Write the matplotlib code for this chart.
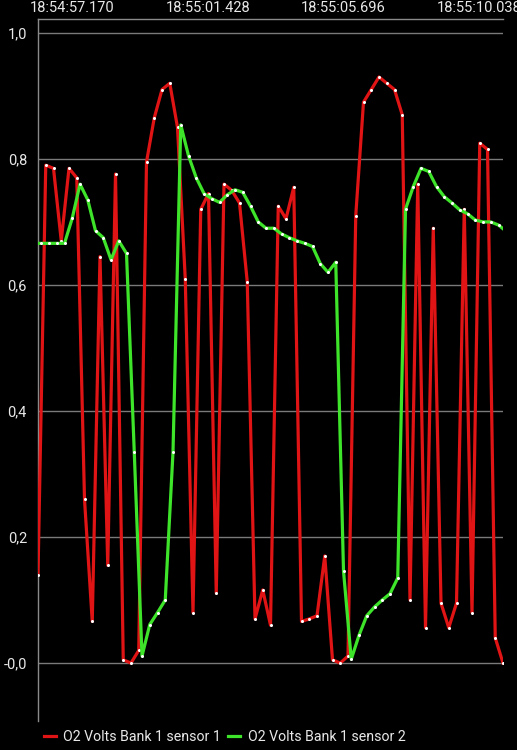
import matplotlib
matplotlib.use('Agg')
import matplotlib.pyplot as plt

plt.rcParams['font.family'] = ['Roboto', 'DejaVu Sans']

# Sensor 1 samples (sample index 0..60)
sensor1 = [0.14, 0.79, 0.785, 0.67, 0.785, 0.77, 0.26, 0.066, 0.645, 0.155,
           0.776, 0.005, 0.0, 0.02, 0.795, 0.865, 0.91, 0.92, 0.85, 0.61,
           0.08, 0.72, 0.745, 0.111, 0.76, 0.75, 0.73, 0.605, 0.07, 0.116,
           0.06, 0.725, 0.705, 0.755, 0.066, 0.07, 0.075, 0.17, 0.005, 0.0,
           0.011, 0.71, 0.89, 0.91, 0.93, 0.92, 0.91, 0.87, 0.1, 0.76,
           0.056, 0.69, 0.095, 0.056, 0.095, 0.72, 0.08, 0.825, 0.815, 0.04,
           0.0]
sensor1_x = list(range(len(sensor1)))

# Sensor 2 samples, read slightly after sensor 1 in each cycle
sensor2_x = [-0.58, 0.42, 1.42, 2.42, 3.42, 4.42, 5.42, 6.42, 7.42, 8.42,
             9.42, 10.42, 11.42, 12.42, 13.42, 14.42, 15.42, 16.42, 17.42, 18.42,
             19.42, 20.42, 21.42, 22.42, 23.42, 24.42, 25.42, 26.42, 27.42, 28.42,
             29.42, 30.42, 31.42, 32.42, 33.42, 34.42, 35.42, 36.42, 37.42, 38.42,
             39.42, 40.42, 41.42, 42.42, 43.42, 44.42, 45.42, 46.42, 47.42, 48.42,
             49.42, 50.42, 51.42, 52.42, 53.42, 54.42, 55.42, 56.42, 57.42, 58.42,
             59.42, 60.42]
sensor2 = [0.666, 0.666, 0.666, 0.666, 0.666, 0.706, 0.76, 0.735, 0.686, 0.675,
           0.64, 0.67, 0.65, 0.335, 0.011, 0.061, 0.08, 0.1, 0.335, 0.854,
           0.805, 0.77, 0.745, 0.737, 0.731, 0.743, 0.751, 0.747, 0.725, 0.70,
           0.69, 0.69, 0.681, 0.675, 0.67, 0.666, 0.661, 0.634, 0.62, 0.636,
           0.146, 0.006, 0.044, 0.075, 0.089, 0.1, 0.11, 0.135, 0.72, 0.756,
           0.785, 0.78, 0.756, 0.74, 0.73, 0.719, 0.713, 0.703, 0.70, 0.70,
           0.695, 0.685]

time_ticks = [4.35, 21.9, 39.35, 56.9]
time_labels = ['18:54:57.170', '18:55:01.428', '18:55:05.696', '18:55:10.038']
y_ticks = [0.0, 0.2, 0.4, 0.6, 0.8, 1.0]
y_labels = ['-0,0', '0,2', '0,4', '0,6', '0,8', '1,0']

fig = plt.figure(figsize=(5.17, 7.5), dpi=100, facecolor='black')
ax = fig.add_axes([38 / 517, 29 / 750, 465 / 517, 702 / 750])
ax.set_facecolor('black')

ax.plot(sensor1_x, sensor1, color='#e01414', lw=2.3, marker='o', markersize=2.2,
        markerfacecolor='white', markeredgewidth=0, label='O2 Volts Bank 1 sensor 1',
        solid_joinstyle='round', zorder=3)
ax.plot(sensor2_x, sensor2, color='#3ee42a', lw=2.3, marker='o', markersize=2.2,
        markerfacecolor='white', markeredgewidth=0, label='O2 Volts Bank 1 sensor 2',
        solid_joinstyle='round', zorder=4)

ax.set_xlim(0, 60)
ax.set_ylim(-0.092, 1.022)

ax.set_yticks(y_ticks)
ax.set_yticklabels(y_labels)
ax.set_xticks(time_ticks)
ax.set_xticklabels(time_labels)
ax.xaxis.tick_top()
ax.tick_params(axis='x', length=0, pad=3, labelsize=10.5, colors='#e8e8e8')
ax.tick_params(axis='y', length=0, pad=8, labelsize=10.5, colors='#e8e8e8')

ax.grid(axis='y', color='#7a7a7a', lw=1.0)
for side in ['right', 'bottom']:
    ax.spines[side].set_visible(False)
for side in ['left', 'top']:
    ax.spines[side].set_color('#8a8a8a')
    ax.spines[side].set_linewidth(1.0)

leg = fig.legend(loc='lower left', bbox_to_anchor=(31 / 517, -7 / 750), ncol=2, frameon=False,
                 handlelength=0.85, handletextpad=0.5, columnspacing=0.55,
                 fontsize=10.2, labelcolor='#e8e8e8')
for line in leg.get_lines():
    line.set_marker('')
    line.set_linewidth(2.3)

fig.savefig('out.png', dpi=100, facecolor='black')
